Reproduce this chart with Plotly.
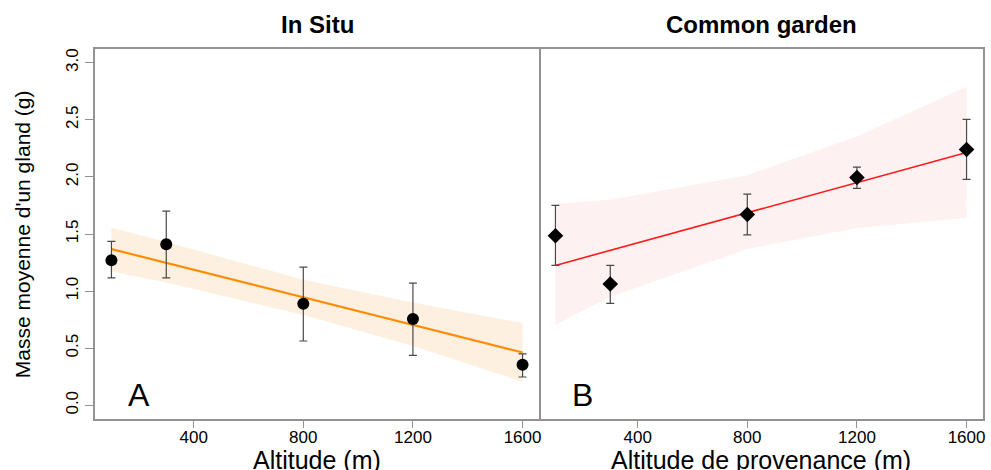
import plotly.graph_objects as go

# Altitude of the sampled populations (m)
altitude = [100, 300, 800, 1200, 1600]

# Panel A - In situ: mean acorn mass (g) with error-bar limits
insitu_mean = [1.27, 1.41, 0.89, 0.755, 0.355]
insitu_upper = [1.435, 1.70, 1.21, 1.07, 0.45]
insitu_lower = [1.115, 1.115, 0.563, 0.437, 0.248]
insitu_fit_x = [100, 1600]
insitu_fit_y = [1.368, 0.462]
insitu_band_upper = [1.557, 1.43, 1.10, 0.90, 0.72]
insitu_band_lower = [1.172, 1.075, 0.79, 0.52, 0.205]

# Panel B - Common garden: mean acorn mass (g) with error-bar limits
garden_mean = [1.485, 1.062, 1.671, 1.995, 2.24]
garden_upper = [1.75, 1.225, 1.85, 2.086, 2.503]
garden_lower = [1.225, 0.892, 1.493, 1.899, 1.979]
garden_fit_x = [100, 1600]
garden_fit_y = [1.225, 2.213]
garden_band_upper = [1.765, 1.80, 2.015, 2.353, 2.79]
garden_band_lower = [0.706, 0.95, 1.368, 1.552, 1.64]

x_ticks = [400, 800, 1200, 1600]
y_ticks = [0.0, 0.5, 1.0, 1.5, 2.0, 2.5, 3.0]
y_tick_text = ["0.0", "0.5", "1.0", "1.5", "2.0", "2.5", "3.0"]

FONT = "Liberation Sans, Arial, sans-serif"
AXIS_GREY = "#939393"

fig = go.Figure()


def add_panel(xa, ya, mean, upper, lower, fit_x, fit_y, band_up, band_lo,
              band_color, line_color, line_width, symbol, msize):
    # confidence band
    fig.add_trace(go.Scatter(
        x=altitude + altitude[::-1],
        y=band_up + band_lo[::-1],
        fill="toself", fillcolor=band_color, mode="none",
        hoverinfo="skip", showlegend=False, xaxis=xa, yaxis=ya))
    # regression line
    fig.add_trace(go.Scatter(
        x=fit_x, y=fit_y, mode="lines",
        line=dict(color=line_color, width=line_width),
        showlegend=False, xaxis=xa, yaxis=ya))
    # population means with error bars
    fig.add_trace(go.Scatter(
        x=altitude, y=mean, mode="markers",
        marker=dict(symbol=symbol, size=msize, color="black",
                    line=dict(width=0)),
        error_y=dict(type="data", symmetric=False,
                     array=[u - m for u, m in zip(upper, mean)],
                     arrayminus=[m - l for m, l in zip(mean, lower)],
                     color="#4a4a4a", thickness=1.2, width=4),
        showlegend=False, xaxis=xa, yaxis=ya))


add_panel("x", "y", insitu_mean, insitu_upper, insitu_lower,
          insitu_fit_x, insitu_fit_y, insitu_band_upper, insitu_band_lower,
          "rgba(253,235,214,0.75)", "#ff8c00", 2.2, "circle", 12)
add_panel("x2", "y2", garden_mean, garden_upper, garden_lower,
          garden_fit_x, garden_fit_y, garden_band_upper, garden_band_lower,
          "rgba(252,232,232,0.6)", "#ff1a1a", 1.6, "diamond", 12)

xaxis_common = dict(range=[40, 1660], tickvals=x_ticks,
                    ticks="outside", ticklen=7, tickwidth=1.2, tickcolor=AXIS_GREY,
                    ticklabelstandoff=-5,
                    showline=True, linecolor=AXIS_GREY, linewidth=1.6, mirror=True,
                    showgrid=False, zeroline=False,
                    tickfont=dict(family=FONT, size=17, color="black"))
yaxis_common = dict(range=[-0.12, 3.12], showline=True, linecolor=AXIS_GREY,
                    linewidth=1.6, showgrid=False, zeroline=False)

fig.update_layout(
    width=991, height=470,
    margin=dict(l=95, r=6, t=49, b=51),
    paper_bgcolor="white", plot_bgcolor="white",
    xaxis=dict(domain=[0, 0.5], anchor="y", **xaxis_common),
    xaxis2=dict(domain=[0.5, 1], anchor="y2", **xaxis_common),
    # left axis: its mirrored line is the shared divider between the panels
    yaxis=dict(anchor="x", tickvals=y_ticks, ticktext=y_tick_text, mirror=True,
               ticks="outside", ticklen=8, tickwidth=1.2, tickcolor=AXIS_GREY,
               tickangle=-90,
               tickfont=dict(family=FONT, size=17, color="black"),
               **yaxis_common),
    yaxis2=dict(anchor="x2", side="right", mirror=False,
                showticklabels=False, ticks="", **yaxis_common),
    font=dict(family=FONT, color="black"),
)

annotations = [
    dict(text="<b>In Situ</b>", xref="paper", yref="paper", x=0.25, y=1.066,
         font=dict(size=24)),
    dict(text="<b>Common garden</b>", xref="paper", yref="paper", x=0.75, y=1.066,
         font=dict(size=24)),
    dict(text="Altitude (m)", xref="paper", yref="paper", x=0.25, y=-0.112,
         font=dict(size=25)),
    dict(text="Altitude de provenance (m)", xref="paper", yref="paper", x=0.75,
         y=-0.112, font=dict(size=25)),
    dict(text="Masse moyenne d'un gland (g)", xref="paper", yref="paper",
         x=-0.082, y=0.5, textangle=-90, font=dict(size=21)),
    dict(text="A", xref="x", yref="y", x=200, y=0.09, font=dict(size=32)),
    dict(text="B", xref="x2", yref="y2", x=200, y=0.09, font=dict(size=32)),
]
for a in annotations:
    a.update(showarrow=False, xanchor="center", yanchor="middle")
    a["font"].update(family=FONT, color="black")
fig.update_layout(annotations=annotations)

fig.write_html("out.html")
